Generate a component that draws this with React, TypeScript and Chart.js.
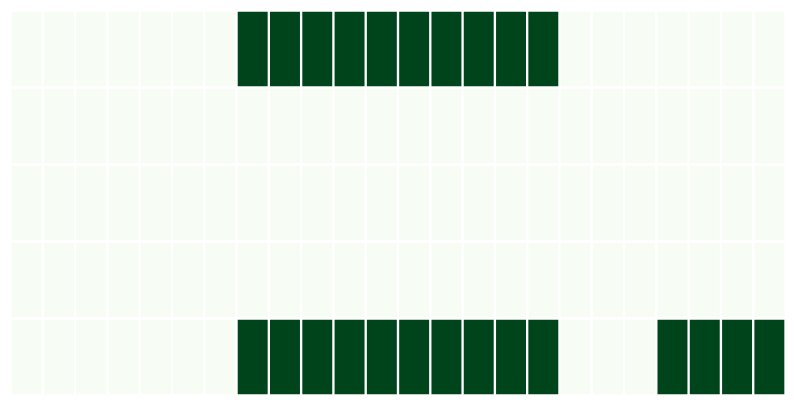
import React, { useEffect, useRef } from "react";
import { Chart, registerables } from "chart.js";

Chart.register(...registerables);

const hours = [
  "0", "1", "2", "3", "4", "5", "6", "7", "8", "9", "10", "11",
  "12", "13", "14", "15", "16", "17", "18", "19", "20", "21", "22", "23",
];
const rowNames = ["A", "B", "C", "D", "E"];

const rowA = [0, 0, 0, 0, 0, 0, 0, 1, 1, 1, 1, 1, 1, 1, 1, 1, 1, 0, 0, 0, 0, 0, 0, 0];
const rowB = [0, 0, 0, 0, 0, 0, 0, 0, 0, 0, 0, 0, 0, 0, 0, 0, 0, 0, 0, 0, 0, 0, 0, 0];
const rowC = [0, 0, 0, 0, 0, 0, 0, 0, 0, 0, 0, 0, 0, 0, 0, 0, 0, 0, 0, 0, 0, 0, 0, 0];
const rowD = [0, 0, 0, 0, 0, 0, 0, 0, 0, 0, 0, 0, 0, 0, 0, 0, 0, 0, 0, 0, 0, 0, 0, 0];
const rowE = [0, 0, 0, 0, 0, 0, 0, 1, 1, 1, 1, 1, 1, 1, 1, 1, 1, 0, 0, 0, 1, 1, 1, 1];

const rows = [rowA, rowB, rowC, rowD, rowE];

const LOW = "#f7fcf5";
const HIGH = "#00441b";

export default function App() {
  const ref = useRef<HTMLCanvasElement | null>(null);

  useEffect(() => {
    if (!ref.current) return;
    const chart = new Chart(ref.current, {
      type: "bar",
      data: {
        labels: hours,
        datasets: rows.map((vals, r) => ({
          label: rowNames[r],
          data: vals.map((_, i) => [r, r + 1]) as any,
          backgroundColor: vals.map((v) => (v > 0.5 ? HIGH : LOW)),
          borderColor: "#ffffff",
          borderWidth: 1.5,
          borderSkipped: false,
          grouped: false,
          categoryPercentage: 1,
          barPercentage: 1,
        })),
      },
      options: {
        animation: false,
        responsive: false,
        maintainAspectRatio: false,
        layout: { padding: { left: 10.5, right: 8.5, top: 10.5, bottom: 9.5 } },
        plugins: { legend: { display: false }, tooltip: { enabled: false } },
        scales: {
          x: { display: false, offset: true },
          y: { display: false, min: 0, max: 5, reverse: true },
        },
      },
    });
    return () => chart.destroy();
  }, []);

  return (
    <div style={{ position: "fixed", left: 0, top: 0, width: 794, height: 405, background: "#fff" }}>
      <canvas ref={ref} width={794} height={405} style={{ display: "block" }} />
    </div>
  );
}
